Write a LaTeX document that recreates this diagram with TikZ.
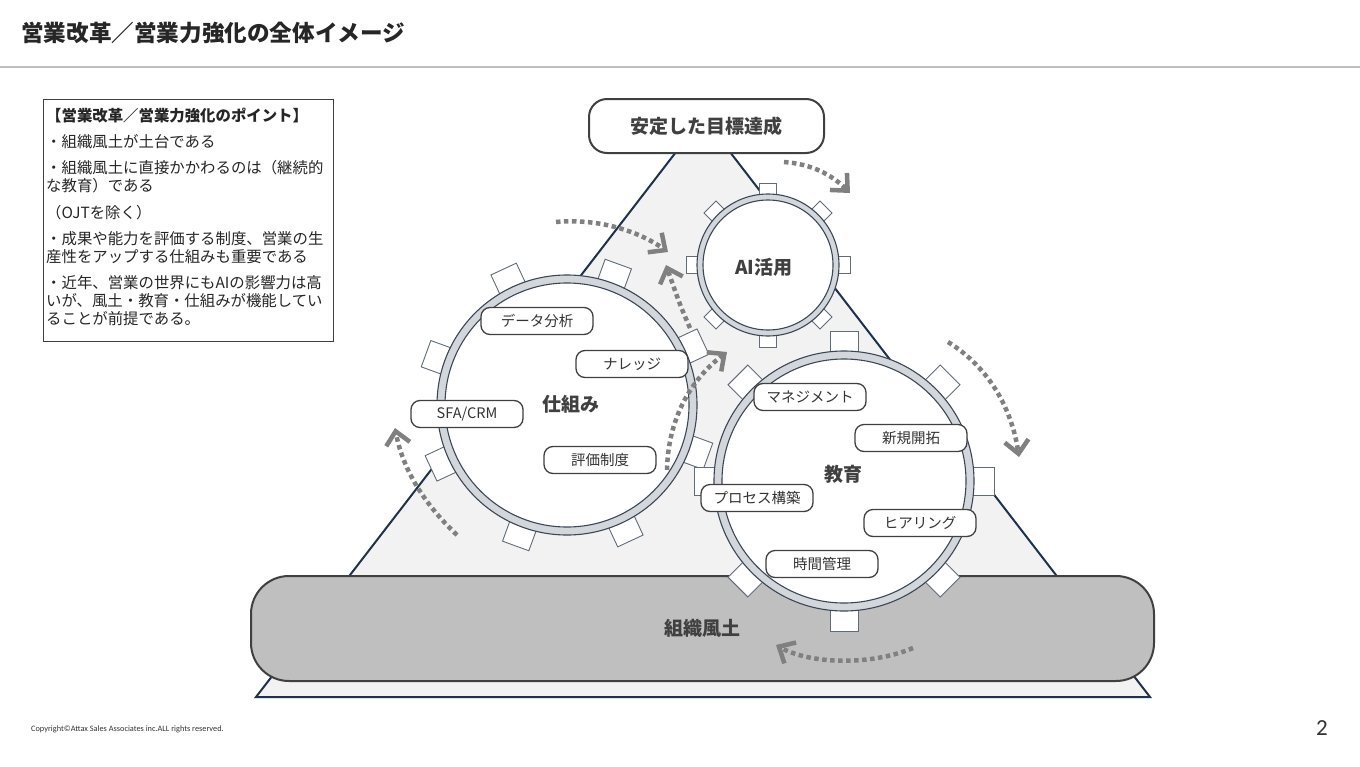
\documentclass[tikz,border=0pt]{standalone}
\usepackage{fontspec}
\setmainfont{Noto Sans CJK JP}
\newfontfamily\latinfont{Carlito}
\usetikzlibrary{arrows.meta}
\definecolor{txt}{HTML}{333333}
\definecolor{titlec}{HTML}{262626}
\definecolor{boxline}{HTML}{404040}
\definecolor{navy}{HTML}{1F3249}
\definecolor{trifill}{HTML}{F2F2F2}
\definecolor{basefill}{HTML}{BFBFBF}
\definecolor{ringc}{HTML}{D3D7DC}
\definecolor{ringline}{HTML}{3B4757}
\definecolor{arrowc}{HTML}{808080}
\definecolor{headline}{HTML}{BFBFBF}
\newcommand\mygear[7]{%
  \foreach \a in {#7} {%
    \begin{scope}[shift={(#1,#2)},rotate=-\a]
      \draw[tooth] ({#3-10},-#5) rectangle ({#3+#6},#5);
    \end{scope}}
  \draw[ringband] (#1,#2) circle[radius=#3];
  \draw[ringinner] (#1,#2) circle[radius={#3-#4}];
}
\begin{document}
\begin{tikzpicture}[x=1pt,y=-1pt,
  tooth/.style={draw=ringline!80, line width=0.9pt, fill=white},
  ringband/.style={draw=ringline, line width=1.1pt, fill=ringc},
  ringinner/.style={draw=ringline, line width=1.1pt, fill=white},
  pill/.style={draw=boxline, line width=1.3pt, fill=white, rounded corners=9pt,
    minimum width=112pt, minimum height=27pt, inner sep=0pt, text=txt,
    font=\fontsize{14.5}{16}\selectfont},
  biglabel/.style={text=boxline, font=\bfseries\fontsize{19}{21}\selectfont, inner sep=0pt},
  flow/.style={draw=arrowc, line width=4.5pt, dash pattern=on 4.5pt off 3.5pt,
    -{Straight Barb[length=13pt, width=24pt, line width=4.5pt]}},
]
\useasboundingbox (0,0) rectangle (1360,766);
\fill[white] (0,0) rectangle (1360,766);

% header
\node[anchor=west, inner sep=0pt, text=titlec, font=\bfseries\fontsize{22.6}{24}\selectfont] (title) at (21,33) {営業改革／営業力強化の全体イメージ};
\draw[headline, line width=2.5pt] (0,67) -- (1360,67);

% point box
\draw[boxline, line width=1pt] (43,99) rectangle (333,341);
\node[anchor=north west, inner sep=0pt, align=left, text=titlec, font=\fontsize{15.4}{18}\selectfont] (points) at (46,107.5)
{{\bfseries 【営業改革／営業力強化のポイント】}\\[8.3pt]
・組織風土が土台である\\[8.3pt]
・組織風土に直接かかわるのは（継続的\\
な教育）である\\[8.3pt]
（OJTを除く）\\[8.3pt]
・成果や能力を評価する制度、営業の生\\
産性をアップする仕組みも重要である\\[8.3pt]
・近年、営業の世界にもAIの影響力は高\\
いが、風土・教育・仕組みが機能してい\\
ることが前提である。};

% triangle
\draw[navy, line width=2pt, fill=trifill, line join=miter] (703,117) -- (1150,697) -- (256,697) -- cycle;

% base
\draw[boxline, line width=2pt, fill=basefill, rounded corners=38pt] (251,576) rectangle (1154,681);
\node[biglabel] (culture) at (702,628) {組織風土};

% goal
\draw[boxline, line width=2pt, fill=white, rounded corners=18pt] (589,99) rectangle (824,153);
\node[biglabel] (goal) at (706,126) {安定した目標達成};

% gears
\mygear{567}{405}{130}{8}{14}{20}{20,65,...,335}
\mygear{768}{265}{71}{6}{8.5}{11}{0,45,...,315}
\mygear{844}{481}{130}{8}{14}{20}{0,45,...,315}

\node[biglabel] (shikumi) at (571,404) {仕組み};
\node[biglabel] (ai) at (764,267) {AI活用};
\node[biglabel] (kyoiku) at (843,474) {教育};

% pills
\node[pill] (p1) at (537,321) {データ分析};
\node[pill] (p2) at (632,364) {ナレッジ};
\node[pill] (p3) at (467,414) {SFA/CRM};
\node[pill] (p4) at (600,460) {評価制度};
\node[pill] (p5) at (810,397) {マネジメント};
\node[pill] (p6) at (911,438) {新規開拓};
\node[pill] (p7) at (757,498) {プロセス構築};
\node[pill] (p8) at (920,523) {ヒアリング};
\node[pill] (p9) at (822,564) {時間管理};

% flow arrows
\coordinate (a1s) at (784,162); \coordinate (a1e) at (850,193);
\coordinate (a2s) at (556,222); \coordinate (a2e) at (668,252);
\coordinate (a3s) at (690,328); \coordinate (a3e) at (666,265);
\coordinate (a4s) at (667,470); \coordinate (a4e) at (727,352);
\coordinate (a5s) at (948,342); \coordinate (a5e) at (1019,457);
\coordinate (a6s) at (913,648); \coordinate (a6e) at (776,645);
\coordinate (a7s) at (457,535); \coordinate (a7e) at (395,428);
\draw[flow] (a1s) .. controls (812,164) and (832,175) .. (a1e);
\draw[flow] (a2s) .. controls (600,218) and (640,232) .. (a2e);
\draw[flow] (a3s) .. controls (680,305) .. (a3e);
\draw[flow] (a4s) .. controls (668,420) and (690,380) .. (a4e);
\draw[flow] (a5s) .. controls (990,368) and (1012,410) .. (a5e);
\draw[flow] (a6s) .. controls (870,666) and (810,664) .. (a6e);
\draw[flow] (a7s) .. controls (420,500) and (402,465) .. (a7e);

% footer
\node[anchor=west, inner sep=0pt, text=txt, font=\latinfont\fontsize{8.3}{9}\selectfont] (copy) at (31,729) {Copyright©Attax Sales Associates inc.ALL rights reserved.};
\node[inner sep=0pt, text=txt, font=\latinfont\fontsize{23}{24}\selectfont] (page) at (1322,728) {2};
\end{tikzpicture}
\end{document}
